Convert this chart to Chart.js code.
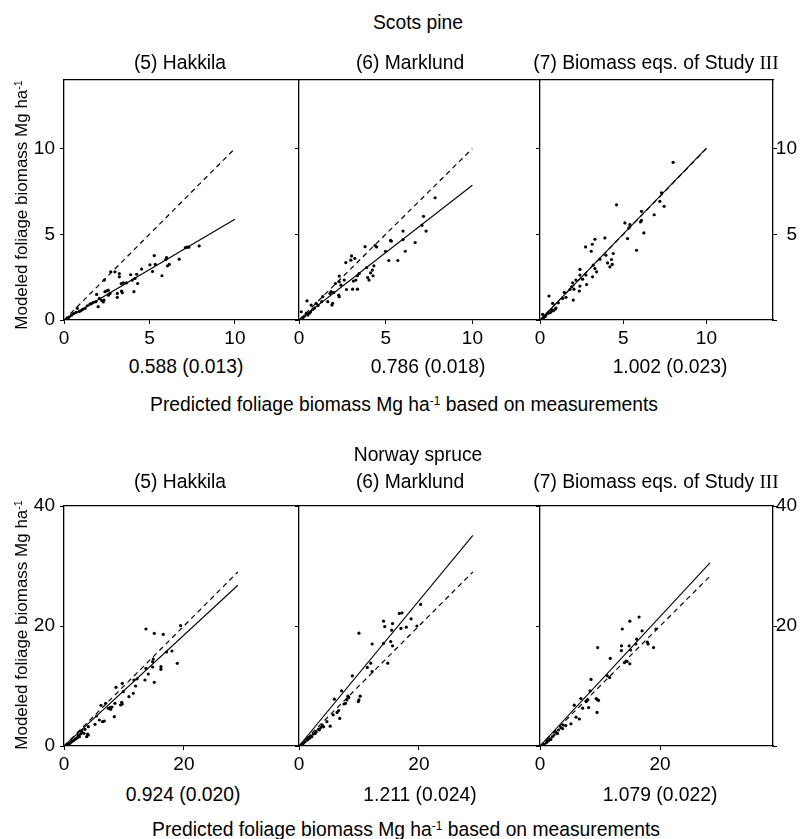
<!DOCTYPE html>
<html>
<head>
<meta charset="utf-8">
<script src="https://cdn.jsdelivr.net/npm/chart.js@4.4.0/dist/chart.umd.min.js"></script>
<style>
  body { margin: 0; background: #fff; }
  #page { position: relative; width: 804px; height: 839px; overflow: hidden; background: #fff;
          font-family: "Liberation Sans", Arial, sans-serif; color: #000; }
  .txt { position: absolute; white-space: nowrap; line-height: 1; }
  .txt sup { font-size: 0.62em; vertical-align: baseline; position: relative; top: -0.5em; }
  canvas { position: absolute; }
</style>
</head>
<body>
<div id="page"></div>
<script>
// ---- data ----
const speciesNames = ["Scots pine", "Norway spruce"];
const methodNames = ["(5) Hakkila", "(6) Marklund", "(7) Biomass eqs. of Study <span style=\"font-family:'Liberation Serif'\">III</span>"];

// slope (standard error) under each panel
const pineSlopes = [0.588, 0.786, 1.002];
const pineSlopeErr = [0.013, 0.018, 0.023];
const spruceSlopes = [0.924, 1.211, 1.079];
const spruceSlopeErr = [0.020, 0.024, 0.022];

// tick values
const pineTicks = [0, 5, 10];
const spruceYTicks = [0, 20, 40];
const spruceXTicks = [0, 20];

// axis ranges
const pineYMax = 14;
const spruceYMax = 40;
const pineXMax = [13.75, 13.9, 14];
const spruceXMax = [39.2, 40.2, 38.8];

// where the fitted line and 1:1 line stop
const pineLineEnd = [10, 10, 10];
const spruceLineEnd = [29, 29, 28.3];

// [predicted, modeled]
const pineHakkila = [
  [7.91,4.32],[7.3,4.25],[7.2,4.25],[7.1,4.22],[6.74,3.55],[6.0,3.64],[5.96,3.53],[6.16,3.24],
  [6.06,3.16],[5.73,2.58],[5.28,3.76],[5.34,3.24],[5.03,3.22],[5.18,2.83],[4.54,2.97],[4.25,2.67],
  [4.15,2.42],[4.31,2.13],[4.09,1.65],[3.9,2.64],[4.0,2.33],[3.66,2.17],[3.47,2.17],[3.35,2.13],
  [3.24,2.71],[3.24,2.52],[2.98,2.81],[2.73,2.81],[3.41,1.59],[3.37,1.68],[3.12,1.55],[3.12,1.32],
  [2.59,1.74],[2.69,1.55],[2.5,1.7],[2.36,2.33],[2.4,1.65],[2.34,1.16],[2.3,1.05],[2.07,1.26],
  [1.91,1.49],[1.87,1.07],[2.0,0.78],[1.72,1.03],[1.52,0.93],[1.36,0.83],[1.23,0.68],[0.78,0.68],
  [0.7,0.45],[0.55,0.37],[0.45,0.29],[0.31,0.19],[0.23,0.1],[0.16,0.05],[1.0,0.55],[1.1,0.62],
  [0.9,0.5],[2.2,1.15],[2.6,1.45],[1.6,0.95]
];
const pineMarklund = [
  [7.85,7.13],[7.18,6.05],[7.09,5.52],[7.33,5.19],[6.7,4.52],[6.0,5.19],[6.0,4.69],[6.13,4.01],
  [5.28,4.65],[5.32,4.6],[5.7,3.47],[5.18,3.47],[4.99,4.01],[4.38,4.34],[4.48,4.26],[3.81,4.28],
  [4.32,3.16],[4.23,2.91],[4.13,2.75],[4.04,2.33],[4.27,2.58],[3.9,3.06],[3.96,2.48],[3.22,3.59],
  [3.03,3.74],[2.99,3.49],[2.7,3.35],[3.47,2.71],[3.37,2.58],[3.28,2.33],[3.14,2.27],[3.37,1.8],
  [3.09,1.8],[2.74,1.78],[2.61,2.33],[2.32,2.56],[2.32,2.23],[2.42,2.03],[2.1,2.13],[2.29,1.45],
  [2.32,1.36],[1.85,1.65],[1.79,1.55],[1.94,0.97],[1.9,0.87],[1.37,1.36],[1.31,1.07],[1.66,1.07],
  [0.99,0.97],[0.8,0.62],[0.67,0.48],[0.46,1.12],[0.7,0.87],[0.13,0.48],[0.42,0.39],[0.32,0.23],
  [0.23,0.15],[0.51,0.29],[0.9,0.7],[1.1,0.85],[2.0,1.6],[0.6,0.4]
];
const pineStudy3 = [
  [8.0,9.2],[7.3,7.42],[7.2,6.92],[7.46,6.63],[6.86,6.14],[6.1,6.34],[6.1,5.81],[6.04,5.72],
  [6.24,5.08],[5.8,4.07],[5.1,5.66],[5.4,5.56],[5.34,5.37],[5.26,4.75],[4.6,6.72],[3.9,4.79],
  [3.3,4.71],[3.14,4.42],[2.74,4.26],[3.08,4.01],[3.96,3.78],[3.6,3.55],[4.4,3.88],[4.3,3.53],
  [4.06,3.33],[4.2,3.1],[4.34,3.24],[3.3,3.0],[3.4,2.81],[3.2,3.2],[3.16,2.52],[2.76,2.62],
  [2.4,2.95],[2.4,2.62],[2.56,2.38],[2.8,2.07],[2.16,2.33],[2.4,1.98],[2.36,1.69],[1.96,2.17],
  [1.9,1.94],[2.04,1.8],[1.8,1.78],[2.0,1.16],[1.46,1.61],[1.36,1.26],[1.56,1.32],[0.54,1.4],
  [0.76,0.97],[0.9,0.62],[0.8,0.54],[0.96,0.7],[0.64,0.45],[0.5,0.39],[0.36,0.29],[0.3,0.19],
  [0.16,0.33],[0.2,0.12],[1.1,1.0],[0.7,0.6]
];
const spruceHakkila = [
  [13.67,19.5],[15.06,18.78],[16.56,18.6],[19.44,20.06],[18.0,15.83],[17.1,15.67],[18.9,13.78],
  [16.17,13.22],[16.17,12.78],[14.89,14.5],[14.78,14.06],[14.78,13.17],[14.06,12.0],[13.67,12.94],
  [13.5,11.0],[15.06,10.61],[11.67,11.0],[11.94,10.0],[11.56,8.78],[10.83,8.22],[9.72,10.44],
  [8.67,9.78],[9.89,9.06],[9.61,7.28],[9.44,6.83],[9.72,7.0],[8.5,7.11],[8.39,4.89],[7.67,6.39],
  [7.78,6.11],[7.39,6.28],[6.94,7.11],[6.17,6.78],[6.72,4.17],[6.44,4.06],[5.89,4.33],[5.17,3.61],
  [5.44,5.0],[4.06,3.22],[3.5,2.78],[2.94,2.56],[3.94,2.0],[3.33,2.11],[2.78,2.0],[2.56,1.56],
  [2.22,1.39],[2.0,1.22],[1.56,0.89],[1.28,0.72],[1.0,0.44],[0.72,0.28],[0.45,0.15],[3.78,1.56],
  [4.06,1.83],[2.4,1.8],[3.0,2.3],[1.8,1.1],[12.2,11.2],[8.0,6.5]
];
const spruceMarklund = [
  [20.28,23.6],[17.19,22.2],[16.74,22.1],[18.7,21.2],[14.1,20.8],[15.6,20.4],[14.3,19.9],
  [15.45,19.3],[17.0,19.6],[17.9,19.8],[19.66,20.0],[10.0,18.8],[12.2,17.0],[14.1,17.1],
  [15.3,17.4],[15.6,16.7],[11.97,13.8],[11.4,13.1],[12.2,12.4],[14.8,13.8],[8.9,11.7],[7.1,9.2],
  [5.9,7.8],[8.3,8.1],[8.0,7.7],[7.75,7.1],[7.5,7.0],[10.0,7.7],[9.9,7.4],[10.2,8.3],[8.15,8.3],
  [6.6,5.9],[6.35,5.6],[5.7,5.2],[6.8,4.6],[5.2,3.3],[4.66,4.06],[3.9,3.5],[3.65,3.1],[3.26,2.78],
  [2.87,2.39],[2.4,2.0],[2.13,1.56],[1.74,1.28],[1.4,1.0],[1.0,0.72],[0.73,0.44],[0.45,0.17],
  [4.1,3.2],[3.4,2.7],[2.7,2.1],[1.95,1.7],[1.55,1.4]
];
const spruceStudy3 = [
  [16.5,21.5],[14.96,20.8],[13.7,19.5],[17.0,19.2],[19.3,19.5],[16.1,17.8],[9.6,16.4],
  [13.56,16.7],[13.56,15.9],[14.85,16.7],[15.1,16.0],[15.97,17.0],[17.87,17.3],[18.0,17.0],
  [18.9,16.4],[11.7,14.6],[14.1,13.9],[14.96,13.7],[14.5,14.1],[11.2,11.7],[11.6,11.4],[8.5,11.1],
  [8.35,9.2],[6.8,7.9],[7.96,7.7],[7.7,7.4],[9.36,7.9],[9.75,7.6],[9.55,7.75],[5.7,6.8],[7.1,6.3],
  [8.1,6.4],[9.5,5.6],[6.0,4.8],[6.55,4.5],[5.15,3.7],[3.87,3.5],[3.47,3.06],[3.08,2.67],
  [2.63,2.28],[2.35,1.83],[2.07,1.56],[1.8,1.1],[1.4,0.83],[1.06,0.56],[0.67,0.28],[3.75,2.9],
  [2.9,2.1],[1.6,1.2],[1.2,0.9],[4.3,3.4]
];

// ---- layout ----
const page = document.getElementById("page");
const panelLeft = [64, 299, 540];
const panelRight = [299, 540, 773];
const rowTop = [80, 506];
const rowBottom = [320, 746];
const AXIS_W = 40, X_AXIS_H = 30, PAD_T = 22, RIGHT_AXIS_W = 24;
const FONT = '"Liberation Sans", Arial, sans-serif';

Chart.defaults.font.family = FONT;
Chart.defaults.font.size = 19;
Chart.defaults.color = "#000";

function addText(html, cx, baseline, size) {
  const d = document.createElement("div");
  d.className = "txt";
  d.innerHTML = html;
  d.style.fontSize = size + "px";
  d.style.left = cx + "px";
  d.style.top = (baseline - 0.8465 * size) + "px";
  d.style.transform = "translateX(-50%)";
  page.appendChild(d);
}

function addVText(html, cx, cy, size) {
  const d = document.createElement("div");
  d.className = "txt";
  d.innerHTML = html;
  d.style.fontSize = size + "px";
  d.style.left = cx + "px";
  d.style.top = cy + "px";
  d.style.transform = "translate(-50%,-50%) rotate(-90deg)";
  page.appendChild(d);
}

function tickGrid() {
  return { display: true, drawOnChartArea: false, drawTicks: true, tickLength: 4, color: "#000", lineWidth: 1 };
}
const axisBorder = { display: true, color: "#000", width: 1.3 };

function makePanel(row, col, points, slope, lineEnd, xMax, yMax, xTicks, yTicks) {
  const left = panelLeft[col], right = panelRight[col];
  const plotW = right - left, plotH = rowBottom[row] - rowTop[row];
  const isLast = col === 2;
  const padR = isLast ? 8 : 10;

  const canvas = document.createElement("canvas");
  canvas.width = AXIS_W + plotW + (isLast ? RIGHT_AXIS_W : 0) + padR;
  canvas.height = PAD_T + plotH + X_AXIS_H;
  canvas.style.left = (left - AXIS_W) + "px";
  canvas.style.top = (rowTop[row] - PAD_T) + "px";
  page.appendChild(canvas);

  const setTicks = (vals) => (s) => { s.ticks = vals.map(v => ({ value: v })); };

  const scales = {
    x: {
      type: "linear", position: "bottom", min: 0, max: xMax,
      afterBuildTicks: setTicks(xTicks),
      afterFit: (s) => { s.height = X_AXIS_H; },
      ticks: { padding: 3, maxRotation: 0, autoSkip: false },
      grid: tickGrid(), border: axisBorder
    },
    xTop: {
      type: "linear", position: "top", min: 0, max: xMax,
      ticks: { display: false }, grid: { display: false, drawTicks: false },
      border: axisBorder,
      afterFit: (s) => { s.height = 0; }
    },
    y: {
      type: "linear", position: "left", min: 0, max: yMax,
      afterBuildTicks: setTicks(yTicks),
      afterFit: (s) => { s.width = AXIS_W; },
      ticks: { display: col === 0, padding: 5, autoSkip: false },
      grid: tickGrid(), border: axisBorder
    }
  };
  if (isLast) {
    scales.yRight = {
      type: "linear", position: "right", min: 0, max: yMax,
      afterBuildTicks: setTicks(yTicks),
      afterFit: (s) => { s.width = RIGHT_AXIS_W; },
      ticks: { padding: 1, crossAlign: "far", autoSkip: false, callback: (v) => (v === 0 ? "" : v) },
      grid: tickGrid(), border: axisBorder
    };
  }

  new Chart(canvas, {
    type: "scatter",
    data: {
      datasets: [
        {
          data: [{ x: 0, y: 0 }, { x: lineEnd, y: slope * lineEnd }],
          showLine: true, borderColor: "#000", borderWidth: 1.1, pointRadius: 0
        },
        {
          data: [{ x: 0, y: 0 }, { x: lineEnd, y: lineEnd }],
          showLine: true, borderColor: "#000", borderWidth: 1.2, borderDash: [5, 4], pointRadius: 0
        },
        {
          data: points.map(p => ({ x: p[0], y: p[1] })),
          pointRadius: 1.6, pointStyle: "circle", backgroundColor: "#000", borderWidth: 0
        }
      ]
    },
    options: {
      responsive: false,
      animation: false,
      devicePixelRatio: 1,
      layout: { padding: { top: PAD_T, right: padR, left: 0, bottom: 0 } },
      plugins: { legend: { display: false }, tooltip: { enabled: false } },
      scales: scales
    }
  });
}

// ---- panels ----
const pineData = [pineHakkila, pineMarklund, pineStudy3];
const spruceData = [spruceHakkila, spruceMarklund, spruceStudy3];
for (let c = 0; c < 3; c++) {
  makePanel(0, c, pineData[c], pineSlopes[c], pineLineEnd[c], pineXMax[c], pineYMax, pineTicks, pineTicks);
  makePanel(1, c, spruceData[c], spruceSlopes[c], spruceLineEnd[c], spruceXMax[c], spruceYMax, spruceXTicks, spruceYTicks);
}

// ---- text ----
const methodCenters = [180, 410, 656];
const pineSlopeCenters = [186, 428, 670];
const spruceSlopeCenters = [183, 420, 660];
const xTitle = "Predicted foliage biomass Mg ha<sup>-1</sup> based on measurements";
const yTitle = "Modeled foliage biomass Mg ha<sup>-1</sup>";

addText(speciesNames[0], 418, 29, 19.3);
addText(speciesNames[1], 418, 461, 19.3);
for (let c = 0; c < 3; c++) {
  addText(methodNames[c], methodCenters[c], 69, 19.3);
  addText(methodNames[c], methodCenters[c], 488, 19.3);
  addText(pineSlopes[c].toFixed(3) + " (" + pineSlopeErr[c].toFixed(3) + ")", pineSlopeCenters[c], 373, 19.3);
  addText(spruceSlopes[c].toFixed(3) + " (" + spruceSlopeErr[c].toFixed(3) + ")", spruceSlopeCenters[c], 801, 19.3);
}
addText(xTitle, 404, 411, 19.3);
addText(xTitle, 406, 836, 19.3);
addVText(yTitle, 21, 205, 17);
addVText(yTitle, 21, 625, 17);
</script>
</body>
</html>
